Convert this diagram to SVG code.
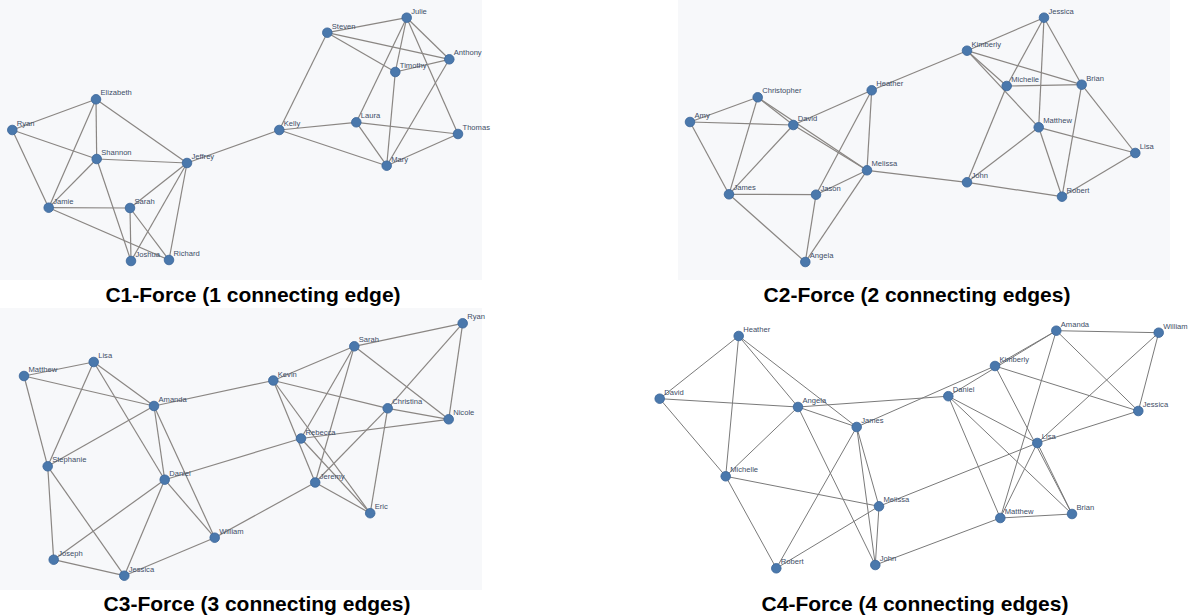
<svg xmlns="http://www.w3.org/2000/svg" width="1190" height="616" viewBox="0 0 1190 616">
<style>
.bg{fill:#f7f8fa}
.e line{stroke:#8a8683;stroke-width:1.2}
.e4 line{stroke:#7a7a7a;stroke-width:1}
.n circle{fill:#4a78ac;stroke:#3a6598;stroke-width:0.8}
.n text{font-family:"Liberation Sans",Arial,sans-serif;font-size:7.6px;fill:#3d4d66}
.t{font-family:"Liberation Sans",Arial,sans-serif;font-size:21px;font-weight:bold;fill:#000;text-anchor:middle}
</style>
<rect width="1190" height="616" fill="#fff"/>
<rect class="bg" x="0" y="0" width="482" height="280"/>
<rect class="bg" x="678" y="0" width="492" height="280"/>
<rect class="bg" x="0" y="308" width="482" height="282"/>

<g id="connectors">
<g class="e">
<!-- Panel 1 -->
<line x1="96" y1="99.3" x2="12.3" y2="130"/>
<line x1="96" y1="99.3" x2="96.7" y2="159"/>
<line x1="96" y1="99.3" x2="48.7" y2="207.7"/>
<line x1="96" y1="99.3" x2="187" y2="163"/>
<line x1="12.3" y1="130" x2="96.7" y2="159"/>
<line x1="12.3" y1="130" x2="48.7" y2="207.7"/>
<line x1="96.7" y1="159" x2="187" y2="163"/>
<line x1="96.7" y1="159" x2="48.7" y2="207.7"/>
<line x1="96.7" y1="159" x2="131" y2="261"/>
<line x1="48.7" y1="207.7" x2="130" y2="208"/>
<line x1="48.7" y1="207.7" x2="169" y2="260"/>
<line x1="130" y1="208" x2="131" y2="261"/>
<line x1="130" y1="208" x2="169" y2="260"/>
<line x1="187" y1="163" x2="130" y2="208"/>
<line x1="187" y1="163" x2="131" y2="261"/>
<line x1="187" y1="163" x2="169" y2="260"/>
<line x1="187" y1="163" x2="279.3" y2="130"/>
<line x1="279.3" y1="130" x2="327.3" y2="32.7"/>
<line x1="279.3" y1="130" x2="356.3" y2="122.3"/>
<line x1="279.3" y1="130" x2="386.7" y2="165.7"/>
<line x1="327.3" y1="32.7" x2="406.7" y2="17.7"/>
<line x1="327.3" y1="32.7" x2="449.3" y2="59.3"/>
<line x1="327.3" y1="32.7" x2="395.3" y2="72"/>
<line x1="406.7" y1="17.7" x2="356.3" y2="122.3"/>
<line x1="406.7" y1="17.7" x2="395.3" y2="72"/>
<line x1="406.7" y1="17.7" x2="449.3" y2="59.3"/>
<line x1="406.7" y1="17.7" x2="458" y2="134"/>
<line x1="395.3" y1="72" x2="449.3" y2="59.3"/>
<line x1="395.3" y1="72" x2="386.7" y2="165.7"/>
<line x1="449.3" y1="59.3" x2="386.7" y2="165.7"/>
<line x1="356.3" y1="122.3" x2="458" y2="134"/>
<line x1="356.3" y1="122.3" x2="386.7" y2="165.7"/>
<line x1="386.7" y1="165.7" x2="458" y2="134"/>
<!-- Panel 2 -->
<line x1="757.7" y1="97.3" x2="690" y2="122"/>
<line x1="757.7" y1="97.3" x2="729" y2="194.3"/>
<line x1="757.7" y1="97.3" x2="793.3" y2="125"/>
<line x1="757.7" y1="97.3" x2="867" y2="170.3"/>
<line x1="690" y1="122" x2="793.3" y2="125"/>
<line x1="690" y1="122" x2="729" y2="194.3"/>
<line x1="793.3" y1="125" x2="729" y2="194.3"/>
<line x1="793.3" y1="125" x2="871.7" y2="90.3"/>
<line x1="793.3" y1="125" x2="867" y2="170.3"/>
<line x1="871.7" y1="90.3" x2="816" y2="194.7"/>
<line x1="871.7" y1="90.3" x2="867" y2="170.3"/>
<line x1="871.7" y1="90.3" x2="967" y2="50.7"/>
<line x1="867" y1="170.3" x2="816" y2="194.7"/>
<line x1="867" y1="170.3" x2="805.3" y2="262"/>
<line x1="867" y1="170.3" x2="967" y2="182.3"/>
<line x1="729" y1="194.3" x2="816" y2="194.7"/>
<line x1="729" y1="194.3" x2="805.3" y2="262"/>
<line x1="816" y1="194.7" x2="805.3" y2="262"/>
<line x1="967" y1="50.7" x2="1044" y2="17.7"/>
<line x1="967" y1="50.7" x2="1006.7" y2="86"/>
<line x1="967" y1="50.7" x2="1038.7" y2="127.3"/>
<line x1="967" y1="50.7" x2="1081.7" y2="84.7"/>
<line x1="1044" y1="17.7" x2="1006.7" y2="86"/>
<line x1="1044" y1="17.7" x2="1038.7" y2="127.3"/>
<line x1="1044" y1="17.7" x2="1081.7" y2="84.7"/>
<line x1="1006.7" y1="86" x2="1081.7" y2="84.7"/>
<line x1="1006.7" y1="86" x2="967" y2="182.3"/>
<line x1="1038.7" y1="127.3" x2="1135.3" y2="153"/>
<line x1="1038.7" y1="127.3" x2="967" y2="182.3"/>
<line x1="1038.7" y1="127.3" x2="1062" y2="196.7"/>
<line x1="1081.7" y1="84.7" x2="1135.3" y2="153"/>
<line x1="1081.7" y1="84.7" x2="1062" y2="196.7"/>
<line x1="1135.3" y1="153" x2="1062" y2="196.7"/>
<line x1="967" y1="182.3" x2="1062" y2="196.7"/>
<!-- Panel 3 -->
<line x1="24" y1="376" x2="93.7" y2="362"/>
<line x1="24" y1="376" x2="154" y2="406"/>
<line x1="24" y1="376" x2="47.7" y2="466.3"/>
<line x1="93.7" y1="362" x2="47.7" y2="466.3"/>
<line x1="93.7" y1="362" x2="154" y2="406"/>
<line x1="93.7" y1="362" x2="164.7" y2="479.7"/>
<line x1="154" y1="406" x2="47.7" y2="466.3"/>
<line x1="154" y1="406" x2="164.7" y2="479.7"/>
<line x1="154" y1="406" x2="214.7" y2="537.7"/>
<line x1="154" y1="406" x2="273.3" y2="380.5"/>
<line x1="47.7" y1="466.3" x2="53.7" y2="559.7"/>
<line x1="47.7" y1="466.3" x2="124.3" y2="575.7"/>
<line x1="164.7" y1="479.7" x2="53.7" y2="559.7"/>
<line x1="164.7" y1="479.7" x2="124.3" y2="575.7"/>
<line x1="164.7" y1="479.7" x2="214.7" y2="537.7"/>
<line x1="164.7" y1="479.7" x2="301" y2="438.5"/>
<line x1="53.7" y1="559.7" x2="124.3" y2="575.7"/>
<line x1="124.3" y1="575.7" x2="214.7" y2="537.7"/>
<line x1="214.7" y1="537.7" x2="315.2" y2="482.5"/>
<line x1="273.3" y1="380.5" x2="354.3" y2="346.3"/>
<line x1="273.3" y1="380.5" x2="387.7" y2="408.3"/>
<line x1="273.3" y1="380.5" x2="315.2" y2="482.5"/>
<line x1="273.3" y1="380.5" x2="370.2" y2="513.2"/>
<line x1="354.3" y1="346.3" x2="462.7" y2="323.3"/>
<line x1="354.3" y1="346.3" x2="448.7" y2="419.3"/>
<line x1="354.3" y1="346.3" x2="301" y2="438.5"/>
<line x1="354.3" y1="346.3" x2="315.2" y2="482.5"/>
<line x1="462.7" y1="323.3" x2="387.7" y2="408.3"/>
<line x1="462.7" y1="323.3" x2="448.7" y2="419.3"/>
<line x1="387.7" y1="408.3" x2="448.7" y2="419.3"/>
<line x1="387.7" y1="408.3" x2="315.2" y2="482.5"/>
<line x1="387.7" y1="408.3" x2="370.2" y2="513.2"/>
<line x1="301" y1="438.5" x2="448.7" y2="419.3"/>
<line x1="301" y1="438.5" x2="370.2" y2="513.2"/>
<line x1="315.2" y1="482.5" x2="370.2" y2="513.2"/>
</g>
<g class="e4">
<!-- Panel 4 -->
<line x1="738.7" y1="336" x2="659.7" y2="398.7"/>
<line x1="738.7" y1="336" x2="725.7" y2="476.3"/>
<line x1="738.7" y1="336" x2="798" y2="407"/>
<line x1="738.7" y1="336" x2="856.7" y2="427"/>
<line x1="659.7" y1="398.7" x2="798" y2="407"/>
<line x1="659.7" y1="398.7" x2="725.7" y2="476.3"/>
<line x1="798" y1="407" x2="725.7" y2="476.3"/>
<line x1="798" y1="407" x2="856.7" y2="427"/>
<line x1="798" y1="407" x2="875.3" y2="565"/>
<line x1="798" y1="407" x2="948.3" y2="396.2"/>
<line x1="856.7" y1="427" x2="995" y2="366"/>
<line x1="856.7" y1="427" x2="776.3" y2="568.3"/>
<line x1="856.7" y1="427" x2="879" y2="506.3"/>
<line x1="856.7" y1="427" x2="875.3" y2="565"/>
<line x1="725.7" y1="476.3" x2="879" y2="506.3"/>
<line x1="725.7" y1="476.3" x2="776.3" y2="568.3"/>
<line x1="879" y1="506.3" x2="776.3" y2="568.3"/>
<line x1="879" y1="506.3" x2="875.3" y2="565"/>
<line x1="879" y1="506.3" x2="1037.3" y2="443"/>
<line x1="875.3" y1="565" x2="1000.3" y2="518"/>
<line x1="1056.3" y1="330.7" x2="1158.7" y2="332.7"/>
<line x1="1056.3" y1="330.7" x2="995" y2="366"/>
<line x1="948.3" y1="396.2" x2="1056.3" y2="330.7"/>
<line x1="1056.3" y1="330.7" x2="1138.3" y2="411"/>
<line x1="1056.3" y1="330.7" x2="1000.3" y2="518"/>
<line x1="1158.7" y1="332.7" x2="1138.3" y2="411"/>
<line x1="1158.7" y1="332.7" x2="1037.3" y2="443"/>
<line x1="995" y1="366" x2="1138.3" y2="411"/>
<line x1="995" y1="366" x2="1072" y2="514"/>
<line x1="948.3" y1="396.2" x2="1037.3" y2="443"/>
<line x1="948.3" y1="396.2" x2="1072" y2="514"/>
<line x1="948.3" y1="396.2" x2="1000.3" y2="518"/>
<line x1="1037.3" y1="443" x2="1138.3" y2="411"/>
<line x1="1037.3" y1="443" x2="1072" y2="514"/>
<line x1="1037.3" y1="443" x2="1000.3" y2="518"/>
<line x1="1000.3" y1="518" x2="1072" y2="514"/>
</g>
</g>

<!-- Panel 1 nodes -->
<g id="c1-elizabeth" class="n"><circle cx="96" cy="99.3" r="4.8"/><text x="100.5" y="95.3">Elizabeth</text></g>
<g id="c1-ryan" class="n"><circle cx="12.3" cy="130" r="4.8"/><text x="16.8" y="126">Ryan</text></g>
<g id="c1-shannon" class="n"><circle cx="96.7" cy="159" r="4.8"/><text x="101.2" y="155">Shannon</text></g>
<g id="c1-jeffrey" class="n"><circle cx="187" cy="163" r="4.8"/><text x="191.5" y="159">Jeffrey</text></g>
<g id="c1-jamie" class="n"><circle cx="48.7" cy="207.7" r="4.8"/><text x="53.2" y="203.7">Jamie</text></g>
<g id="c1-sarah" class="n"><circle cx="130" cy="208" r="4.8"/><text x="134.5" y="204">Sarah</text></g>
<g id="c1-joshua" class="n"><circle cx="131" cy="261" r="4.8"/><text x="135.5" y="257">Joshua</text></g>
<g id="c1-richard" class="n"><circle cx="169" cy="260" r="4.8"/><text x="173.5" y="256">Richard</text></g>
<g id="c1-julie" class="n"><circle cx="406.7" cy="17.7" r="4.8"/><text x="411.2" y="13.7">Julie</text></g>
<g id="c1-steven" class="n"><circle cx="327.3" cy="32.7" r="4.8"/><text x="331.8" y="28.7">Steven</text></g>
<g id="c1-anthony" class="n"><circle cx="449.3" cy="59.3" r="4.8"/><text x="453.8" y="55.3">Anthony</text></g>
<g id="c1-timothy" class="n"><circle cx="395.3" cy="72" r="4.8"/><text x="399.8" y="68">Timothy</text></g>
<g id="c1-kelly" class="n"><circle cx="279.3" cy="130" r="4.8"/><text x="283.8" y="126">Kelly</text></g>
<g id="c1-laura" class="n"><circle cx="356.3" cy="122.3" r="4.8"/><text x="360.8" y="118.3">Laura</text></g>
<g id="c1-thomas" class="n"><circle cx="458" cy="134" r="4.8"/><text x="462.5" y="130">Thomas</text></g>
<g id="c1-mary" class="n"><circle cx="386.7" cy="165.7" r="4.8"/><text x="391.2" y="161.7">Mary</text></g>

<!-- Panel 2 nodes -->
<g id="c2-christopher" class="n"><circle cx="757.7" cy="97.3" r="4.8"/><text x="762.2" y="93.3">Christopher</text></g>
<g id="c2-amy" class="n"><circle cx="690" cy="122" r="4.8"/><text x="694.5" y="118">Amy</text></g>
<g id="c2-david" class="n"><circle cx="793.3" cy="125" r="4.8"/><text x="797.8" y="121">David</text></g>
<g id="c2-heather" class="n"><circle cx="871.7" cy="90.3" r="4.8"/><text x="876.2" y="86.3">Heather</text></g>
<g id="c2-melissa" class="n"><circle cx="867" cy="170.3" r="4.8"/><text x="871.5" y="166.3">Melissa</text></g>
<g id="c2-james" class="n"><circle cx="729" cy="194.3" r="4.8"/><text x="733.5" y="190.3">James</text></g>
<g id="c2-jason" class="n"><circle cx="816" cy="194.7" r="4.8"/><text x="820.5" y="190.7">Jason</text></g>
<g id="c2-angela" class="n"><circle cx="805.3" cy="262" r="4.8"/><text x="809.8" y="258">Angela</text></g>
<g id="c2-jessica" class="n"><circle cx="1044" cy="17.7" r="4.8"/><text x="1048.5" y="13.7">Jessica</text></g>
<g id="c2-kimberly" class="n"><circle cx="967" cy="50.7" r="4.8"/><text x="971.5" y="46.7">Kimberly</text></g>
<g id="c2-michelle" class="n"><circle cx="1006.7" cy="86" r="4.8"/><text x="1011.2" y="82">Michelle</text></g>
<g id="c2-brian" class="n"><circle cx="1081.7" cy="84.7" r="4.8"/><text x="1086.2" y="80.7">Brian</text></g>
<g id="c2-matthew" class="n"><circle cx="1038.7" cy="127.3" r="4.8"/><text x="1043.2" y="123.3">Matthew</text></g>
<g id="c2-lisa" class="n"><circle cx="1135.3" cy="153" r="4.8"/><text x="1139.8" y="149">Lisa</text></g>
<g id="c2-john" class="n"><circle cx="967" cy="182.3" r="4.8"/><text x="971.5" y="178.3">John</text></g>
<g id="c2-robert" class="n"><circle cx="1062" cy="196.7" r="4.8"/><text x="1066.5" y="192.7">Robert</text></g>

<!-- Panel 3 nodes -->
<g id="c3-matthew" class="n"><circle cx="24" cy="376" r="4.8"/><text x="28.5" y="372">Matthew</text></g>
<g id="c3-lisa" class="n"><circle cx="93.7" cy="362" r="4.8"/><text x="98.2" y="358">Lisa</text></g>
<g id="c3-amanda" class="n"><circle cx="154" cy="406" r="4.8"/><text x="158.5" y="402">Amanda</text></g>
<g id="c3-stephanie" class="n"><circle cx="47.7" cy="466.3" r="4.8"/><text x="52.2" y="462.3">Stephanie</text></g>
<g id="c3-daniel" class="n"><circle cx="164.7" cy="479.7" r="4.8"/><text x="169.2" y="475.7">Daniel</text></g>
<g id="c3-william" class="n"><circle cx="214.7" cy="537.7" r="4.8"/><text x="219.2" y="533.7">William</text></g>
<g id="c3-joseph" class="n"><circle cx="53.7" cy="559.7" r="4.8"/><text x="58.2" y="555.7">Joseph</text></g>
<g id="c3-jessica" class="n"><circle cx="124.3" cy="575.7" r="4.8"/><text x="128.8" y="571.7">Jessica</text></g>
<g id="c3-sarah" class="n"><circle cx="354.3" cy="346.3" r="4.8"/><text x="358.8" y="342.3">Sarah</text></g>
<g id="c3-ryan" class="n"><circle cx="462.7" cy="323.3" r="4.8"/><text x="467.2" y="319.3">Ryan</text></g>
<g id="c3-kevin" class="n"><circle cx="273.3" cy="380.5" r="4.8"/><text x="277.8" y="376.5">Kevin</text></g>
<g id="c3-christina" class="n"><circle cx="387.7" cy="408.3" r="4.8"/><text x="392.2" y="404.3">Christina</text></g>
<g id="c3-nicole" class="n"><circle cx="448.7" cy="419.3" r="4.8"/><text x="453.2" y="415.3">Nicole</text></g>
<g id="c3-rebecca" class="n"><circle cx="301" cy="438.5" r="4.8"/><text x="305.5" y="434.5">Rebecca</text></g>
<g id="c3-jeremy" class="n"><circle cx="315.2" cy="482.5" r="4.8"/><text x="319.7" y="478.5">Jeremy</text></g>
<g id="c3-eric" class="n"><circle cx="370.2" cy="513.2" r="4.8"/><text x="374.7" y="509.2">Eric</text></g>

<!-- Panel 4 nodes -->
<g id="c4-heather" class="n"><circle cx="738.7" cy="336" r="4.8"/><text x="743.2" y="332">Heather</text></g>
<g id="c4-david" class="n"><circle cx="659.7" cy="398.7" r="4.8"/><text x="664.2" y="394.7">David</text></g>
<g id="c4-angela" class="n"><circle cx="798" cy="407" r="4.8"/><text x="802.5" y="403">Angela</text></g>
<g id="c4-james" class="n"><circle cx="856.7" cy="427" r="4.8"/><text x="861.2" y="423">James</text></g>
<g id="c4-michelle" class="n"><circle cx="725.7" cy="476.3" r="4.8"/><text x="730.2" y="472.3">Michelle</text></g>
<g id="c4-melissa" class="n"><circle cx="879" cy="506.3" r="4.8"/><text x="883.5" y="502.3">Melissa</text></g>
<g id="c4-robert" class="n"><circle cx="776.3" cy="568.3" r="4.8"/><text x="780.8" y="564.3">Robert</text></g>
<g id="c4-john" class="n"><circle cx="875.3" cy="565" r="4.8"/><text x="879.8" y="561">John</text></g>
<g id="c4-amanda" class="n"><circle cx="1056.3" cy="330.7" r="4.8"/><text x="1060.8" y="326.7">Amanda</text></g>
<g id="c4-william" class="n"><circle cx="1158.7" cy="332.7" r="4.8"/><text x="1163.2" y="328.7">William</text></g>
<g id="c4-kimberly" class="n"><circle cx="995" cy="366" r="4.8"/><text x="999.5" y="362">Kimberly</text></g>
<g id="c4-daniel" class="n"><circle cx="948.3" cy="396.2" r="4.8"/><text x="952.8" y="392.2">Daniel</text></g>
<g id="c4-jessica" class="n"><circle cx="1138.3" cy="411" r="4.8"/><text x="1142.8" y="407">Jessica</text></g>
<g id="c4-lisa" class="n"><circle cx="1037.3" cy="443" r="4.8"/><text x="1041.8" y="439">Lisa</text></g>
<g id="c4-matthew" class="n"><circle cx="1000.3" cy="518" r="4.8"/><text x="1004.8" y="514">Matthew</text></g>
<g id="c4-brian" class="n"><circle cx="1072" cy="514" r="4.8"/><text x="1076.5" y="510">Brian</text></g>

<g id="titles">
<text class="t" x="253" y="302">C1-Force (1 connecting edge)</text>
<text class="t" x="917" y="302">C2-Force (2 connecting edges)</text>
<text class="t" x="257" y="611">C3-Force (3 connecting edges)</text>
<text class="t" x="915" y="611">C4-Force (4 connecting edges)</text>
</g>
</svg>
